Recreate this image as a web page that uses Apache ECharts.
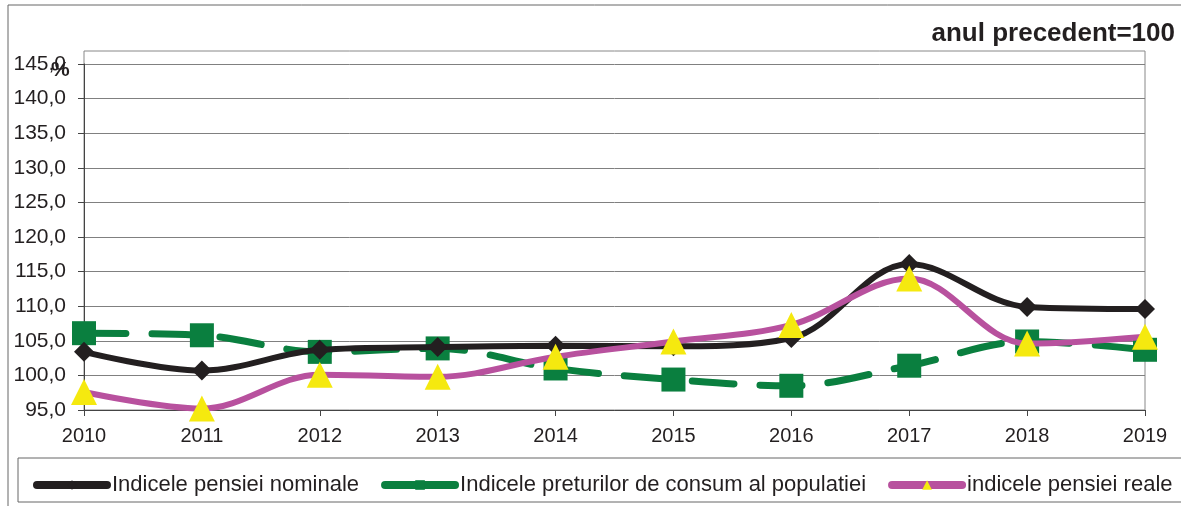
<!DOCTYPE html>
<html>
<head>
<meta charset="utf-8">
<script src="https://cdn.jsdelivr.net/npm/echarts@6/dist/echarts.min.js"></script>
<style>
  html, body { margin: 0; padding: 0; background: #fff; }
  #chart { width: 1181px; height: 506px; }
</style>
</head>
<body>
<div id="chart"></div>
<script>
var years = ['2010', '2011', '2012', '2013', '2014', '2015', '2016', '2017', '2018', '2019'];
var nominal = [103.4, 100.7, 103.7, 104.1, 104.3, 104.2, 105.4, 116.1, 109.9, 109.6];
var prices = [106.1, 105.8, 103.4, 103.9, 101.0, 99.4, 98.5, 101.4, 104.9, 103.7];
var real = [97.6, 95.2, 100.1, 99.8, 102.7, 104.9, 107.3, 114.0, 104.6, 105.6];
var names = ['Indicele pensiei nominale', 'Indicele preturilor de consum al populatiei', 'indicele pensiei reale'];

var chart = echarts.init(document.getElementById('chart'));
var font = 'Liberation Sans, Arial, sans-serif';

var option = {
    animation: false,
    backgroundColor: '#fff',
    textStyle: { fontFamily: font },
    grid: { left: 84, right: 36, top: 64, bottom: 96 },
    xAxis: {
        type: 'category',
        data: years,
        boundaryGap: false,
        axisLine: { lineStyle: { color: '#444', width: 1 } },
        axisTick: { show: true, length: 6, alignWithLabel: true, lineStyle: { color: '#444' } },
        axisLabel: { color: '#231f20', fontSize: 20, fontFamily: font, margin: 16 }
    },
    yAxis: {
        type: 'value',
        min: 95,
        max: 145,
        interval: 5,
        axisLine: { show: true, lineStyle: { color: '#444', width: 1 } },
        axisTick: { show: true, length: 6, lineStyle: { color: '#444' } },
        axisLabel: {
            color: '#231f20', fontSize: 21, fontFamily: font, margin: 18,
            formatter: function (v) { return v.toFixed(1).replace('.', ','); }
        },
        splitLine: { lineStyle: { color: '#808080', width: 1 } }
    },
    legend: {
        top: 469,
        left: 28,
        width: 1150,
        itemWidth: 70,
        itemHeight: 12,
        itemGap: 22,
        lineStyle: { width: 8, type: 'solid', cap: 'round' },
        textStyle: { fontSize: 22, color: '#231f20', fontFamily: font },
        data: names
    },
    graphic: [
        { type: 'line', shape: { x1: 8, y1: 5, x2: 1181, y2: 5 }, style: { stroke: '#666', lineWidth: 1 } },
        { type: 'line', shape: { x1: 8, y1: 5, x2: 8, y2: 506 }, style: { stroke: '#666', lineWidth: 1 } },
        { type: 'rect', shape: { x: 84, y: 51, width: 1061, height: 359 }, style: { fill: 'none', stroke: '#888', lineWidth: 1 }, z: -1 },
        { type: 'rect', shape: { x: 18, y: 458, width: 1180, height: 44 }, style: { fill: 'none', stroke: '#666', lineWidth: 1 } },
        { type: 'text', right: 6, top: 21, style: { text: 'anul precedent=100', fontSize: 26, fontWeight: 'bold', fill: '#231f20', fontFamily: font } },
        { type: 'text', left: 51, top: 60, style: { text: '%', fontSize: 21, fontWeight: 'bold', fill: '#231f20', fontFamily: font } }
    ],
    series: [
        {
            name: names[0],
            type: 'line',
            data: nominal,
            smooth: 0.35,
            symbol: 'diamond',
            symbolSize: 20,
            itemStyle: { color: '#231f20' },
            lineStyle: { color: '#231f20', width: 6 },
            z: 3
        },
        {
            name: names[1],
            type: 'line',
            data: prices,
            smooth: 0.35,
            symbol: 'rect',
            symbolSize: 24,
            itemStyle: { color: '#0a7f3f' },
            lineStyle: { color: '#0a7f3f', width: 7, type: [42, 26], cap: 'round' },
            z: 2
        },
        {
            name: names[2],
            type: 'line',
            data: real,
            smooth: 0.35,
            symbol: 'triangle',
            symbolSize: 26,
            itemStyle: { color: '#f5e90f' },
            lineStyle: { color: '#b8519e', width: 6 },
            z: 4
        }
    ]
};

chart.setOption(option);
</script>
</body>
</html>
